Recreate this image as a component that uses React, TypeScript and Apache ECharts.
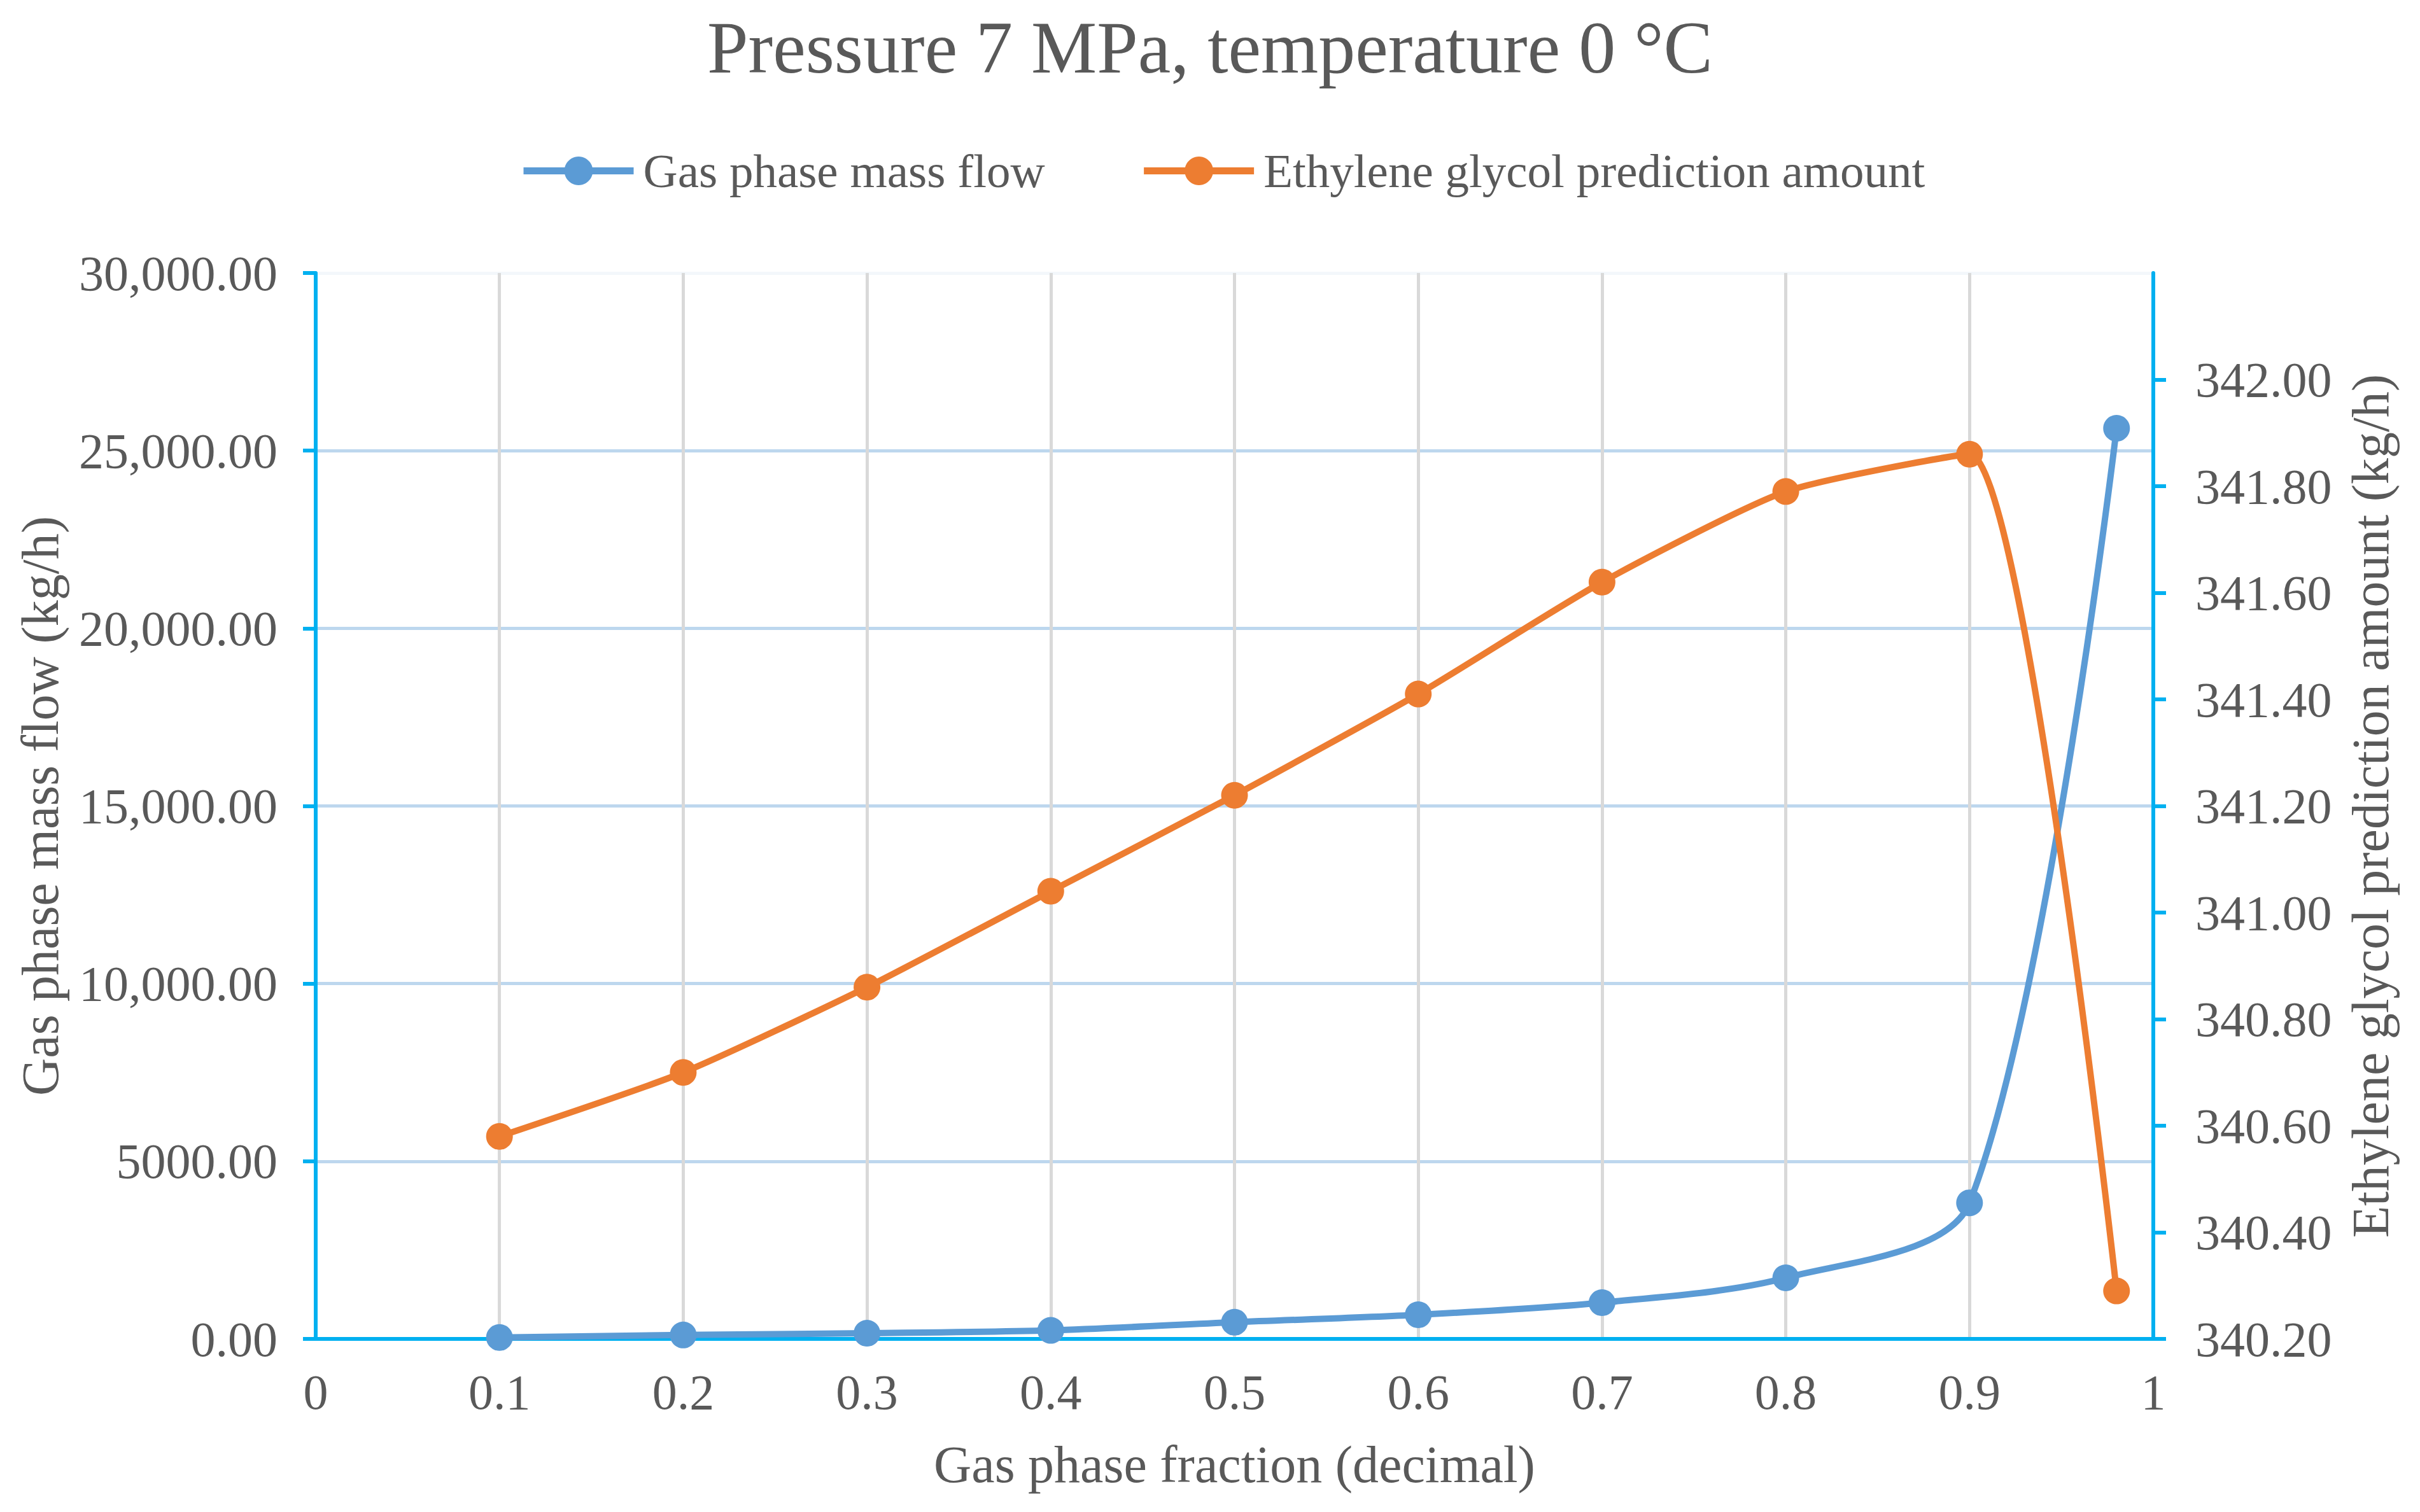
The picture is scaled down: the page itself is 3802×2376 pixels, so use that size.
import { useEffect, useRef } from "react";
import * as echarts from "echarts";

// Gas phase fraction (decimal)
const fractions = [0.1, 0.2, 0.3, 0.4, 0.5, 0.6, 0.7, 0.8, 0.9, 0.98];
// Gas phase mass flow (kg/h), left axis
const massFlow = [40, 110, 160, 240, 470, 680, 1020, 1720, 3830, 25630];
// Ethylene glycol prediction amount (kg/h), right axis
const glycol = [340.58, 340.7, 340.86, 341.04, 341.22, 341.41, 341.62, 341.79, 341.86, 340.29];

const seriesNames = ["Gas phase mass flow", "Ethylene glycol prediction amount"];

const FONT = "'Liberation Serif', 'Times New Roman', serif";
const TEXT = "#595959";
const AXIS = "#00b0f0";

function fmtLeft(v: number) {
    if (v >= 10000) {
        const s = v.toFixed(2);
        const [i, d] = s.split(".");
        return i.replace(/\B(?=(\d{3})+(?!\d))/g, ",") + "." + d;
    }
    return v.toFixed(2);
}

export default function App() {
    const chartRef = useRef<HTMLDivElement>(null);

    useEffect(() => {
        document.body.style.margin = "0";
        document.body.style.overflow = "hidden";
        if (!chartRef.current) return;
        const chart = echarts.init(chartRef.current, null, { renderer: "svg" });

        const yTick = { show: true, inside: false, length: 20, lineStyle: { color: AXIS, width: 6 } };

        chart.setOption({
            animation: false,
            backgroundColor: "#ffffff",
            textStyle: { fontFamily: FONT, color: TEXT },
            title: {
                text: "Pressure 7 MPa, temperature 0 °C",
                left: "center",
                top: 12,
                textStyle: { fontFamily: FONT, fontSize: 116, fontWeight: "normal", color: TEXT },
            },
            legend: {
                top: 226,
                left: 812,
                itemWidth: 173,
                itemHeight: 56,
                itemGap: 150,
                lineStyle: { width: 11 },
                textStyle: { fontFamily: FONT, fontSize: 75, color: TEXT, padding: [0, 0, 0, 10] },
                data: seriesNames,
            },
            grid: { left: 496, right: 419, top: 429, bottom: 272, containLabel: false },
            xAxis: {
                type: "value",
                min: 0,
                max: 1,
                interval: 0.1,
                name: "Gas phase fraction (decimal)",
                nameLocation: "middle",
                nameGap: 156,
                nameTextStyle: { fontFamily: FONT, fontSize: 82, color: TEXT },
                axisLine: { show: true, onZero: false, lineStyle: { color: AXIS, width: 6 } },
                axisTick: { show: false },
                axisLabel: {
                    margin: 44,
                    fontFamily: FONT,
                    fontSize: 78,
                    color: TEXT,
                    formatter: (v: number) => String(+v.toFixed(1)),
                },
                splitLine: { show: true, lineStyle: { color: "#d9d9d9", width: 5 } },
            },
            yAxis: [
                {
                    type: "value",
                    min: 0,
                    max: 30000,
                    interval: 5000,
                    name: "Gas phase mass flow (kg/h)",
                    nameLocation: "middle",
                    nameGap: 392,
                    nameTextStyle: { fontFamily: FONT, fontSize: 82, color: TEXT },
                    axisLine: { show: true, lineStyle: { color: AXIS, width: 6 } },
                    axisTick: yTick,
                    axisLabel: { margin: 60, fontFamily: FONT, fontSize: 78, color: TEXT, formatter: fmtLeft },
                    splitLine: {
                        show: true,
                        lineStyle: {
                            color: ["#bdd7ee", "#bdd7ee", "#bdd7ee", "#bdd7ee", "#bdd7ee", "#bdd7ee", "#f3f7fb"],
                            width: 5,
                        },
                    },
                },
                {
                    type: "value",
                    position: "right",
                    min: 340.2,
                    max: 342.2,
                    interval: 0.2,
                    name: "Ethylene glycol prediction amount (kg/h)",
                    nameLocation: "middle",
                    nameGap: 300,
                    nameTextStyle: { fontFamily: FONT, fontSize: 82, color: TEXT },
                    axisLine: { show: true, lineStyle: { color: AXIS, width: 6 } },
                    axisTick: yTick,
                    axisLabel: {
                        margin: 66,
                        fontFamily: FONT,
                        fontSize: 78,
                        color: TEXT,
                        showMaxLabel: false,
                        formatter: (v: number) => v.toFixed(2),
                    },
                    splitLine: { show: false },
                },
            ],
            series: [
                {
                    name: seriesNames[0],
                    type: "line",
                    yAxisIndex: 0,
                    smooth: 0.3,
                    symbol: "circle",
                    symbolSize: 42,
                    lineStyle: { color: "#5b9bd5", width: 10 },
                    itemStyle: { color: "#5b9bd5" },
                    data: fractions.map((x, i) => [x, massFlow[i]]),
                },
                {
                    name: seriesNames[1],
                    type: "line",
                    yAxisIndex: 1,
                    smooth: 0.2,
                    symbol: "circle",
                    symbolSize: 42,
                    lineStyle: { color: "#ed7d31", width: 10 },
                    itemStyle: { color: "#ed7d31" },
                    data: fractions.map((x, i) => [x, glycol[i]]),
                },
            ],
        });

        return () => {
            chart.dispose();
        };
    }, []);

    return <div ref={chartRef} style={{ width: "3802px", height: "2376px" }} />;
}
